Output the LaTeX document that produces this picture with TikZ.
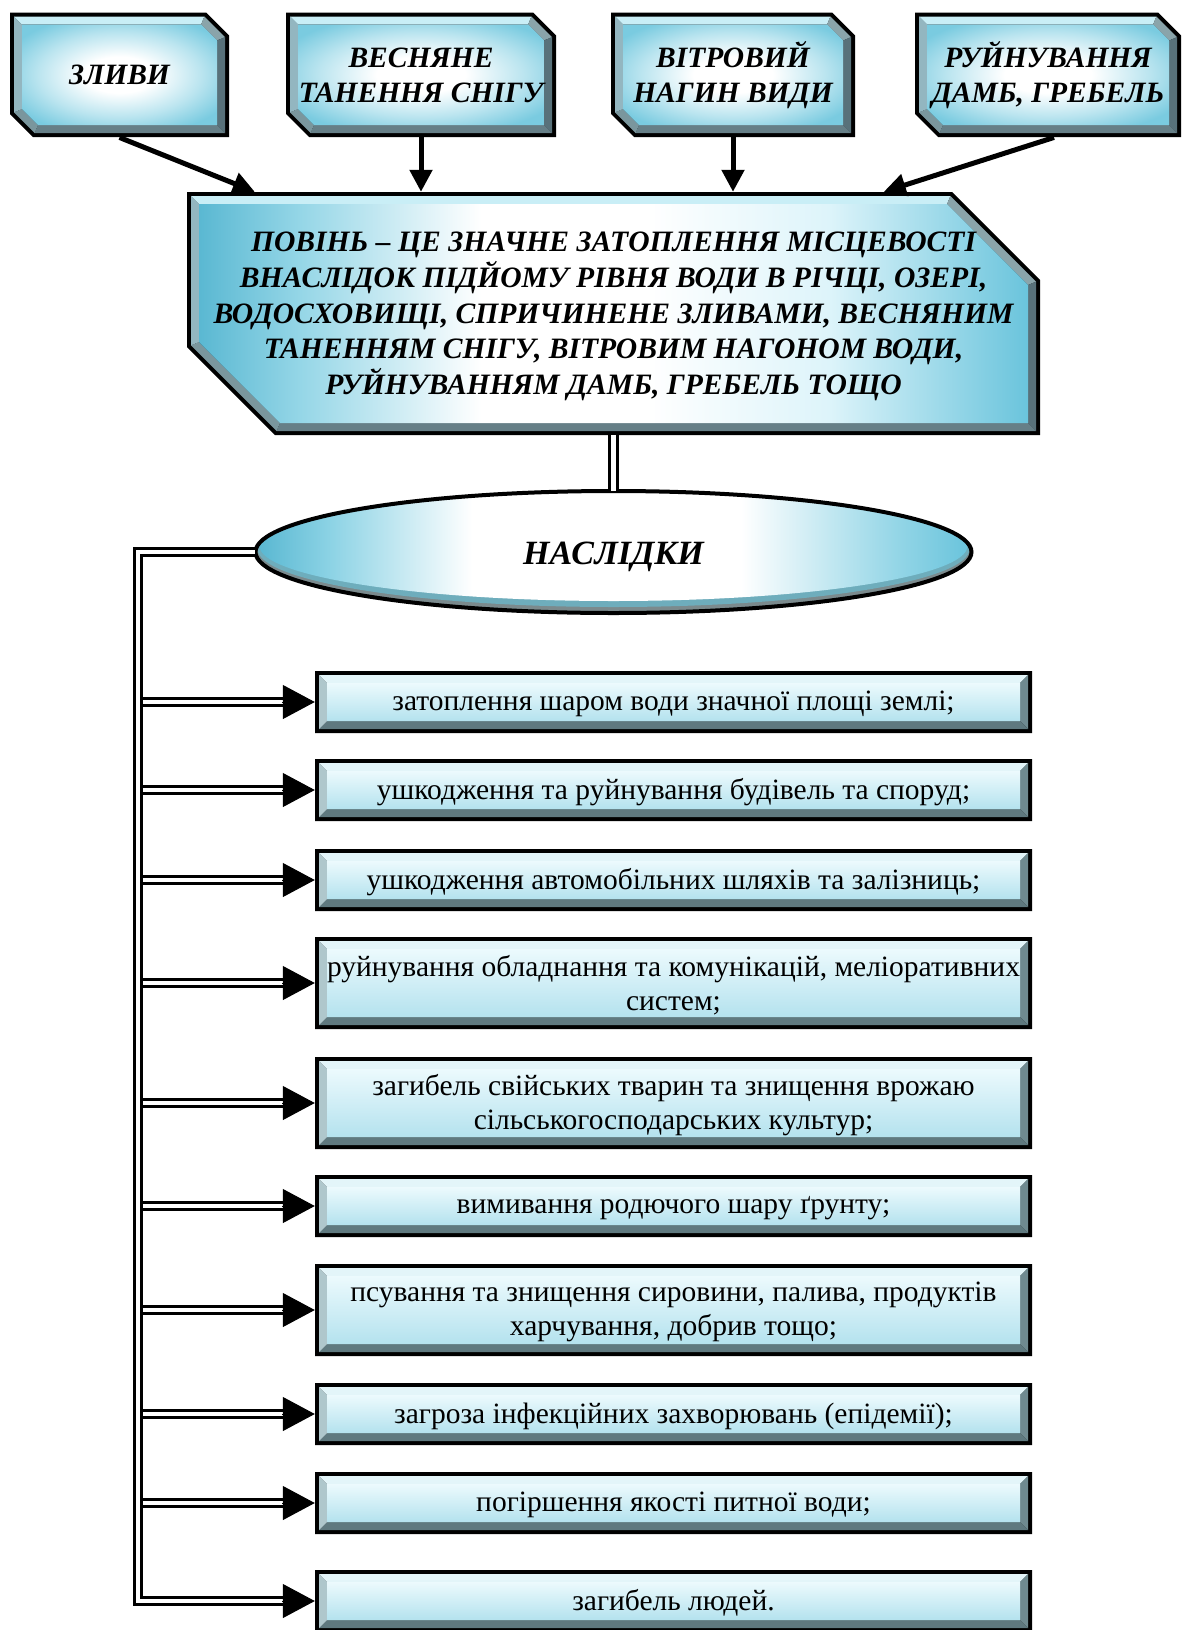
\documentclass[tikz,border=0pt]{standalone}
\usepackage{fontspec}
\setmainfont{Liberation Serif}
\usetikzlibrary{arrows.meta,shapes.geometric,calc}

\definecolor{fblue}{HTML}{66C4DC}
\definecolor{fblueL}{HTML}{5AB8D2}
\definecolor{fblueR}{HTML}{6AC4DC}
\definecolor{topEdge}{HTML}{7ACBE0}
\definecolor{lightcy}{HTML}{DDF4FA}
\definecolor{consTop}{HTML}{ECFAFD}
\definecolor{consBot}{HTML}{B4E2EE}
\definecolor{ellBot}{HTML}{7B8A8D}

% TikZ fits the central 50bp x 50bp of a shading to the path's bounding box
\pgfdeclarehorizontalshading{mainsh}{100bp}{color(0bp)=(fblueL); color(25bp)=(fblueL); color(31bp)=(fblue!70!white); color(42bp)=(white); color(52bp)=(white); color(63bp)=(lightcy); color(75bp)=(fblueR); color(100bp)=(fblueR)}
\pgfdeclarehorizontalshading{ellsh}{100bp}{color(0bp)=(fblueL); color(25bp)=(fblueL); color(30bp)=(fblue!75!white); color(40bp)=(white); color(59bp)=(white); color(70bp)=(fblue!70!white); color(75bp)=(fblueR); color(100bp)=(fblueR)}
\pgfdeclareradialshading{topsh}{\pgfpoint{0bp}{0bp}}{color(0bp)=(white); color(9bp)=(white); color(21bp)=(fblue!45!white); color(31bp)=(topEdge); color(100bp)=(topEdge)}

\newcommand\bvpts[2]{%
 \pgfmathsetmacro\bvd{#2}%
 \coordinate (#1-1) at ({\bvXa+\bvd},{\bvYa+\bvd});
 \coordinate (#1-2) at ({\bvXb-\bvC-\bvK*\bvd},{\bvYa+\bvd});
 \coordinate (#1-3) at ({\bvXb-\bvd},{\bvYa+\bvC+\bvK*\bvd});
 \coordinate (#1-4) at ({\bvXb-\bvd},{\bvYb-\bvd});
 \coordinate (#1-5) at ({\bvXa+\bvC+\bvK*\bvd},{\bvYb-\bvd});
 \coordinate (#1-6) at ({\bvXa+\bvd},{\bvYb-\bvC-\bvK*\bvd});
}
\newcommand\bevbox[6]{%
 \pgfmathsetmacro\bvXa{#1}\pgfmathsetmacro\bvYa{#2}%
 \pgfmathsetmacro\bvXb{#3}\pgfmathsetmacro\bvYb{#4}%
 \pgfmathsetmacro\bvC{#5}%
 \pgfmathsetmacro\bvK{(#5>0)?0.4142:1}%
 \bvpts{o}{0}\bvpts{m}{4}\bvpts{i}{12}%
 \fill[black] (o-1)--(o-2)--(o-3)--(o-4)--(o-5)--(o-6)--cycle;
 \fill[bvT] (m-1)--(m-2)--(i-2)--(i-1)--cycle;
 \fill[bvTR] (m-2)--(m-3)--(i-3)--(i-2)--cycle;
 \fill[bvR] (m-3)--(m-4)--(i-4)--(i-3)--cycle;
 \fill[bvB] (m-4)--(m-5)--(i-5)--(i-4)--cycle;
 \fill[bvBL] (m-5)--(m-6)--(i-6)--(i-5)--cycle;
 \fill[bvL] (m-6)--(m-1)--(i-1)--(i-6)--cycle;
 \path[#6] (i-1)--(i-2)--(i-3)--(i-4)--(i-5)--(i-6)--cycle;
}
\newcommand\cons[4]{%
 \bevbox{315}{#2-#3/2}{1032}{#2+#3/2}{0}{consface}
 \node[inner sep=0pt, minimum width=717, minimum height=#3] (#1) at (673.5,#2) {};
 \node[constext] (#1t) at ($(#1.center)+(0,2)$) {#4};
}

\tikzset{
 bvT/.style={fill=bvTc}, bvTR/.style={fill=bvTRc}, bvR/.style={fill=bvRc},
 bvB/.style={fill=bvBc}, bvBL/.style={fill=bvBLc}, bvL/.style={fill=bvLc},
 consface/.style={top color=consTop, bottom color=consBot},
 topface/.style={shade, shading=topsh},
 mainface/.style={shade, shading=mainsh},
 toptext/.style={inner sep=0pt, align=center, font=\fontsize{29.5}{35}\selectfont\bfseries\itshape},
 maintext/.style={inner sep=0pt, align=center, font=\fontsize{29.6}{35.7}\selectfont\bfseries\itshape},
 constext/.style={inner sep=0pt, align=center, font=\fontsize{29.5}{34.5}\selectfont},
 dbl/.style={draw=black, double=white, line width=3.2pt, double distance=4.4pt},
 bigtip/.style={-{Triangle[length=32pt,width=34pt]}, line width=1pt},
 toparrow/.style={-{Triangle[length=22pt,width=22pt]}, line width=5pt},
}

\begin{document}
\begin{tikzpicture}[x=1pt,y=-1pt]
\useasboundingbox (0,0) rectangle (1182,1630);
\clip (0,0) rectangle (1182,1630);

% ---- top boxes colours
\definecolor{bvTc}{HTML}{C9EEF6}
\definecolor{bvTRc}{HTML}{8AA4AA}
\definecolor{bvRc}{HTML}{58717A}
\definecolor{bvBc}{HTML}{667F87}
\definecolor{bvBLc}{HTML}{7A969D}
\definecolor{bvLc}{HTML}{93B6C0}

\bevbox{10}{12.5}{229}{137}{23}{topface}
\node[toptext, minimum width=219, minimum height=124.5] (t1) at (119.5,75) {ЗЛИВИ};
\bevbox{286}{12.5}{556}{137}{23}{topface}
\node[toptext, minimum width=270, minimum height=124.5] (t2) at (421,75) {ВЕСНЯНЕ\\ТАНЕННЯ СНІГУ};
\bevbox{611}{12.5}{855}{137}{23}{topface}
\node[toptext, minimum width=244, minimum height=124.5] (t3) at (733,75) {ВІТРОВИЙ\\НАГИН ВИДИ};
\bevbox{915}{12.5}{1181}{137}{23}{topface}
\node[toptext, minimum width=266, minimum height=124.5] (t4) at (1048,75) {РУЙНУВАННЯ\\ДАМБ, ГРЕБЕЛЬ};

% ---- main box
\bevbox{187}{192}{1040}{435}{88}{mainface}
\node[maintext, minimum width=853, minimum height=243] (main) at (613.5,313.5) {};
\node[maintext] (maintxt) at ($(main.center)+(0,3)$)
 {ПОВІНЬ – ЦЕ ЗНАЧНЕ ЗАТОПЛЕННЯ МІСЦЕВОСТІ\\
  ВНАСЛІДОК ПІДЙОМУ РІВНЯ ВОДИ В РІЧЦІ, ОЗЕРІ,\\
  ВОДОСХОВИЩІ, СПРИЧИНЕНЕ ЗЛИВАМИ, ВЕСНЯНИМ\\
  ТАНЕННЯМ СНІГУ, ВІТРОВИМ НАГОНОМ ВОДИ,\\
  РУЙНУВАННЯМ ДАМБ, ГРЕБЕЛЬ ТОЩО};

% top arrows
\draw[toparrow] (t1.south) -- ($(main.north west)+(68,0)$);
\draw[toparrow] (t2.south) -- (t2.south |- main.north);
\draw[toparrow] (t3.south) -- (t3.south |- main.north);
\draw[toparrow] ($(t4.south)+(6,0)$) -- ($(main.north west)+(697,0)$);

% ---- ellipse
\begin{scope}
\clip (613.5,552) ellipse [x radius=358, y radius=61];
\fill[ellBot] (613.5,552) ellipse [x radius=358, y radius=61];
\fill[fblue!60!ellBot] (613.5,549) ellipse [x radius=356, y radius=58];
\shade[shading=ellsh] (613.5,546) ellipse [x radius=354, y radius=55];
\end{scope}
\draw[line width=4pt] (613.5,552) ellipse [x radius=358, y radius=61];
\node[ellipse, inner sep=0pt, minimum width=717, minimum height=122] (ell) at (613.5,552) {};
\node[font=\fontsize{34}{40}\selectfont\bfseries\itshape, inner sep=0pt] (elltxt) at ($(ell.center)+(0,5)$) {НАСЛІДКИ};

\draw[dbl] (main.south) -- (ell.north);

% ---- consequence boxes
\definecolor{bvTc}{HTML}{E3F5F9}
\definecolor{bvTRc}{HTML}{8AA4AA}
\definecolor{bvRc}{HTML}{6F8A90}
\definecolor{bvBc}{HTML}{5F797F}
\definecolor{bvBLc}{HTML}{8AA4AA}
\definecolor{bvLc}{HTML}{AFC7CC}

\cons{b1}{702}{62}{затоплення шаром води значної площі землі;}
\cons{b2}{790}{62}{ушкодження та руйнування будівель та споруд;}
\cons{b3}{880}{62}{ушкодження автомобільних шляхів та залізниць;}
\cons{b4}{983}{92}{руйнування обладнання та комунікацій, меліоративних\\систем;}
\cons{b5}{1103}{92}{загибель свійських тварин та знищення врожаю\\сільськогосподарських культур;}
\cons{b6}{1206}{62}{вимивання родючого шару ґрунту;}
\cons{b7}{1310}{92}{псування та знищення сировини, палива, продуктів\\харчування, добрив тощо;}
\cons{b8}{1414}{62}{загроза інфекційних захворювань (епідемії);}
\cons{b9}{1503}{62}{погіршення якості питної води;}
\cons{b10}{1601}{62}{загибель людей.}

% ---- bus and branches
\coordinate (bt) at (138,552);
\coordinate (bb) at (138,1601);
\coordinate (busr) at (143,552);
\draw[dbl] (ell.west) -- (bt) -- (bb) -- ([xshift=-30pt]b10.west);
\draw[bigtip] ([xshift=-33pt]b10.west) -- (b10.west);
\foreach \n in {b1,b2,b3,b4,b5,b6,b7,b8,b9}{
  \draw[dbl] (busr |- \n.west) -- ([xshift=-30pt]\n.west);
  \draw[bigtip] ([xshift=-33pt]\n.west) -- (\n.west);
}
\end{tikzpicture}
\end{document}
